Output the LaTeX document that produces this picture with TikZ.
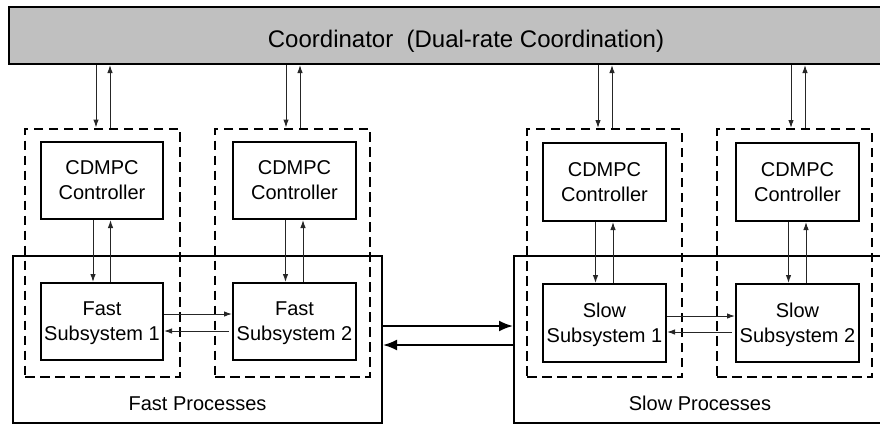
\documentclass[tikz,border=0pt]{standalone}
\usepackage{fontspec}
\setmainfont{Liberation Sans}
\usetikzlibrary{arrows.meta,calc}
\definecolor{coordgray}{RGB}{192,192,192}
\tikzset{
 boxn/.style={draw, line width=2pt, minimum width=122pt, minimum height=77pt, inner sep=0pt, align=center, font=\fontsize{20}{25}\selectfont},
 subbox/.style={boxn, text depth=0pt},
 dbox/.style={draw, dash pattern=on 9.5pt off 5.5pt, line width=2pt, minimum width=155pt, minimum height=248pt, inner sep=0pt},
 proc/.style={draw, line width=2pt, inner sep=0pt, minimum height=167pt},
 coordbox/.style={draw, line width=2pt, fill=coordgray, inner sep=0pt, minimum width=914pt, minimum height=57pt},
 sarrow/.style={line width=1pt, draw=black!85, -{Latex[length=8pt,width=5.5pt]}},
 barrow/.style={line width=2pt, -{Latex[length=14pt,width=11pt]}},
 lbl/.style={font=\fontsize{20}{24}\selectfont, inner sep=0pt, anchor=base},
 ctitle/.style={font=\fontsize{24}{28}\selectfont, inner sep=0pt, anchor=base}
}
\begin{document}
\begin{tikzpicture}[x=1pt,y=-1pt]
\useasboundingbox (0,0) rectangle (880,424);
\clip (0,0) rectangle (880,424);
% process boxes
\node[proc, minimum width=369pt] (fast) at (197.5,339.5) {};
\node[proc, minimum width=370pt] (slow) at (699,339.5) {};
\node[lbl] (fastlbl) at (197.5,410) {Fast Processes};
\node[lbl] (slowlbl) at (700,410) {Slow Processes};
% coordinator
\node[coordbox] (coord) at (466,35.5) {};
\node[ctitle] (coordtxt) at (466,47) {Coordinator~~(Dual-rate Coordination)};
% dashed groups
\node[dbox] (d1) at (102.5,252.5) {};
\node[dbox] (d2) at (292.5,252.5) {};
\node[dbox] (d3) at (604.5,253) {};
\node[dbox] (d4) at (794.5,253) {};
% controllers
\node[boxn] (c1) at (102,180.5) {CDMPC\\Controller};
\node[boxn, minimum width=123pt] (c2) at (294.5,180.5) {CDMPC\\Controller};
\node[boxn, minimum width=123pt, minimum height=78pt] (c3) at (604.5,182) {CDMPC\\Controller};
\node[boxn, minimum width=123pt, minimum height=78pt] (c4) at (797.5,182) {CDMPC\\Controller};
% subsystems
\node[subbox] (s1) at (102,321.5) {Fast\\Subsystem 1};
\node[subbox, minimum width=123pt] (s2) at (294.5,321.5) {Fast\\Subsystem 2};
\node[subbox, minimum width=123pt, minimum height=78pt] (s3) at (604.5,323) {Slow\\Subsystem 1};
\node[subbox, minimum width=123pt, minimum height=78pt] (s4) at (797.5,323) {Slow\\Subsystem 2};
% coordinator <-> groups
\foreach \n/\a/\b in {d1/-6.5/7.5, d2/-6.5/7.5, d3/-6.5/7.5, d4/-3.5/10.5} {
  \coordinate (\n dn) at ($(\n.north)+(\a,0)$);
  \coordinate (\n up) at ($(\n.north)+(\b,0)$);
  \draw[sarrow] (\n dn |- coord.south) -- (\n dn);
  \draw[sarrow] (\n up) -- (\n up |- coord.south);
}
% controller <-> subsystem
\foreach \c/\s in {c1/s1, c2/s2, c3/s3, c4/s4} {
  \coordinate (\c dn) at ($(\c.south)+(-9,0)$);
  \coordinate (\c up) at ($(\c.south)+(8.5,0)$);
  \draw[sarrow] (\c dn) -- (\c dn |- \s.north);
  \draw[sarrow] (\c up |- \s.north) -- (\c up);
}
% subsystem <-> subsystem
\coordinate (h1) at ($(s1.east)+(0,-7.5)$);
\draw[sarrow] (h1) -- (h1 -| s2.west);
\coordinate (h2) at ($(s2.west)+(-3,9.5)$);
\draw[sarrow] (h2) -- (h2 -| s1.east);
\coordinate (h3) at ($(s3.east)+(0,-7)$);
\draw[sarrow] (h3) -- (h3 -| s4.west);
\coordinate (h4) at ($(s4.west)+(-3,9)$);
\draw[sarrow] (h4) -- (h4 -| s3.east);
% fast <-> slow
\coordinate (b1) at ($(fast.east)+(0,-13.5)$);
\draw[barrow] (b1) -- (b1 -| slow.west);
\coordinate (b2) at ($(slow.west)+(0,5.5)$);
\draw[barrow] (b2) -- (b2 -| fast.east);
\end{tikzpicture}
\end{document}
